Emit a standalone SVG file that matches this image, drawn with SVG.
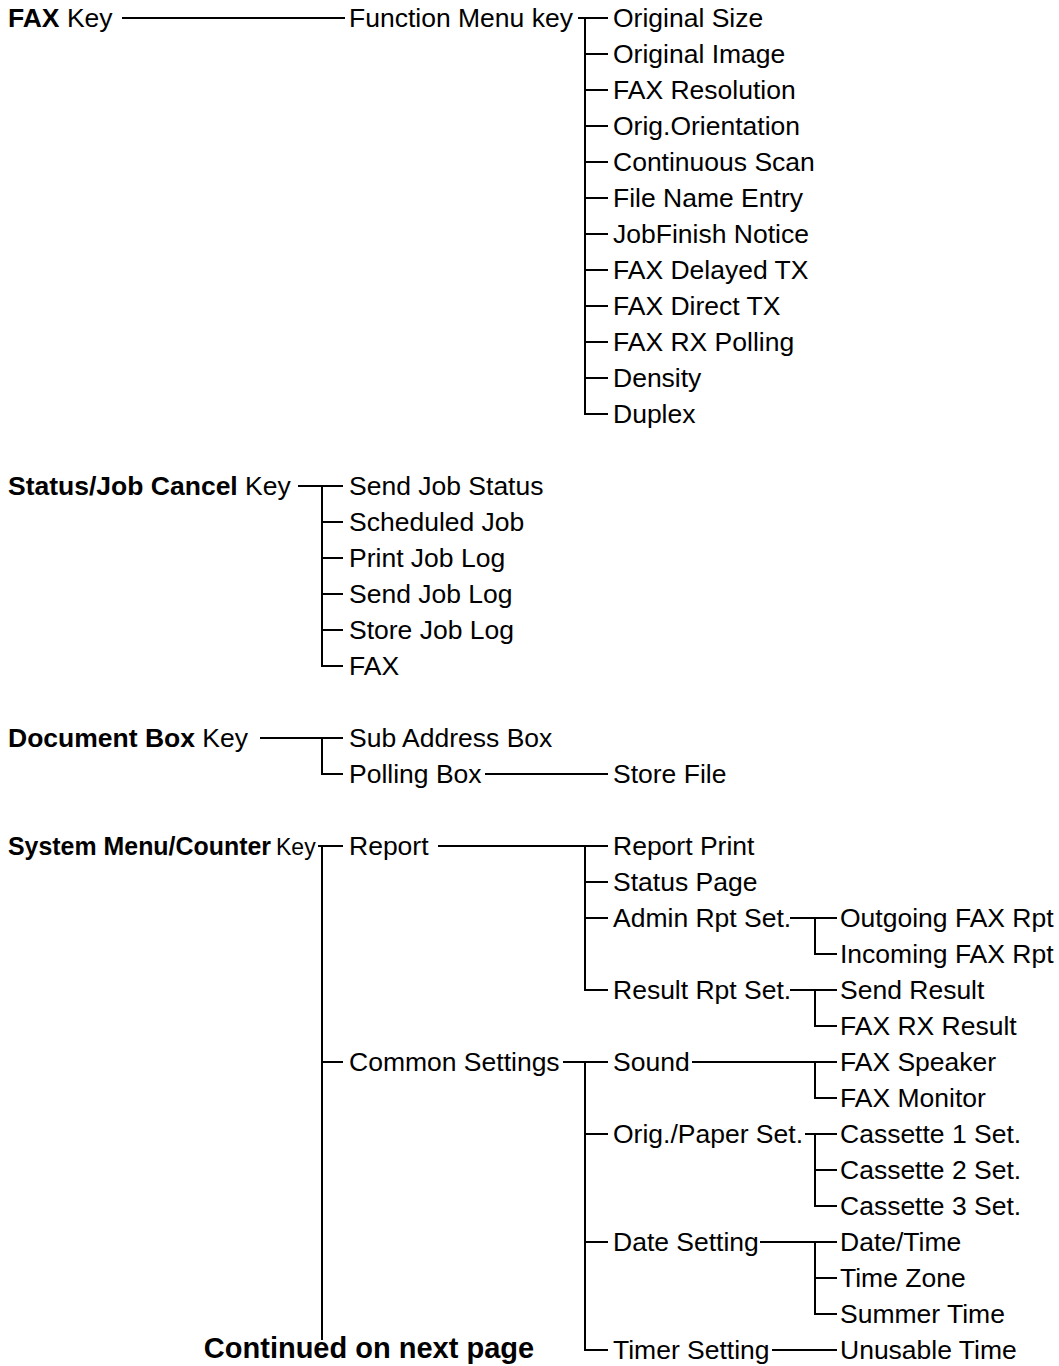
<svg xmlns="http://www.w3.org/2000/svg" width="1059" height="1366" viewBox="0 0 1059 1366">
<style>
text{font-family:"Liberation Sans",Arial,sans-serif;font-size:26.5px;fill:#000}
.b{font-weight:bold}
.c path{fill:none;stroke:#000;stroke-width:2}
</style>
<rect width="1059" height="1366" fill="#fff"/>
<g class="c" id="connectors">
<path d="M122 18H345"/>
<path d="M578 18H608M585 18V414H608M585 54H608M585 90H608M585 126H608M585 162H608M585 198H608M585 234H608M585 270H608M585 306H608M585 342H608M585 378H608"/>
<path d="M298 486H343M322 486V666H343M322 522H343M322 558H343M322 594H343M322 630H343"/>
<path d="M260 738H343M322 738V774H343M485 774H608"/>
<path d="M318 846H343M322 846V1340M322 1062H343"/>
<path d="M438 846H608M585 846V990H608M585 882H608M585 918H608"/>
<path d="M790 918H837M815 918V954H837M790 990H837M815 990V1026H837"/>
<path d="M563 1062H608M585 1062V1350H608M585 1134H608M585 1242H608"/>
<path d="M692 1062H837M815 1062V1098H837"/>
<path d="M805 1134H837M815 1134V1206H837M815 1170H837"/>
<path d="M760 1242H837M815 1242V1314H837M815 1278H837"/>
<path d="M772 1350H837"/>
</g>
<g id="fax-key"><text x="8" y="27"><tspan class="b">FAX</tspan> Key</text></g>
<g id="function-menu"><text x="349" y="27">Function Menu key</text></g>
<g id="fax-items">
<text x="613" y="27">Original Size</text>
<text x="613" y="63">Original Image</text>
<text x="613" y="99">FAX Resolution</text>
<text x="613" y="135">Orig.Orientation</text>
<text x="613" y="171">Continuous Scan</text>
<text x="613" y="207">File Name Entry</text>
<text x="613" y="243">JobFinish Notice</text>
<text x="613" y="279">FAX Delayed TX</text>
<text x="613" y="315">FAX Direct TX</text>
<text x="613" y="351">FAX RX Polling</text>
<text x="613" y="387">Density</text>
<text x="613" y="423">Duplex</text>
</g>
<g id="status-key"><text x="8" y="495"><tspan class="b">Status/Job Cancel</tspan> Key</text></g>
<g id="status-items">
<text x="349" y="495">Send Job Status</text>
<text x="349" y="531">Scheduled Job</text>
<text x="349" y="567">Print Job Log</text>
<text x="349" y="603">Send Job Log</text>
<text x="349" y="639">Store Job Log</text>
<text x="349" y="675">FAX</text>
</g>
<g id="docbox-key"><text x="8" y="747"><tspan class="b">Document Box</tspan> Key</text></g>
<g id="docbox-items">
<text x="349" y="747">Sub Address Box</text>
<text x="349" y="783">Polling Box</text>
<text x="613" y="783">Store File</text>
</g>
<g id="system-key"><text x="8" y="855" class="b" style="font-size:25px" textLength="263" lengthAdjust="spacingAndGlyphs">System Menu/Counter</text><text x="276" y="855" style="font-size:23px">Key</text></g>
<g id="report">
<text x="349" y="855">Report</text>
<text x="613" y="855">Report Print</text>
<text x="613" y="891">Status Page</text>
<text x="613" y="927">Admin Rpt Set.</text>
<text x="613" y="999">Result Rpt Set.</text>
<text x="840" y="927">Outgoing FAX Rpt</text>
<text x="840" y="963">Incoming FAX Rpt</text>
<text x="840" y="999">Send Result</text>
<text x="840" y="1035">FAX RX Result</text>
</g>
<g id="common">
<text x="349" y="1071">Common Settings</text>
<text x="613" y="1071">Sound</text>
<text x="613" y="1143">Orig./Paper Set.</text>
<text x="613" y="1251">Date Setting</text>
<text x="613" y="1359">Timer Setting</text>
<text x="840" y="1071">FAX Speaker</text>
<text x="840" y="1107">FAX Monitor</text>
<text x="840" y="1143">Cassette 1 Set.</text>
<text x="840" y="1179">Cassette 2 Set.</text>
<text x="840" y="1215">Cassette 3 Set.</text>
<text x="840" y="1251">Date/Time</text>
<text x="840" y="1287">Time Zone</text>
<text x="840" y="1323">Summer Time</text>
<text x="840" y="1359">Unusable Time</text>
</g>
<g id="continued"><text x="369" y="1358" text-anchor="middle" class="b" style="font-size:29px">Continued on next page</text></g>
</svg>
